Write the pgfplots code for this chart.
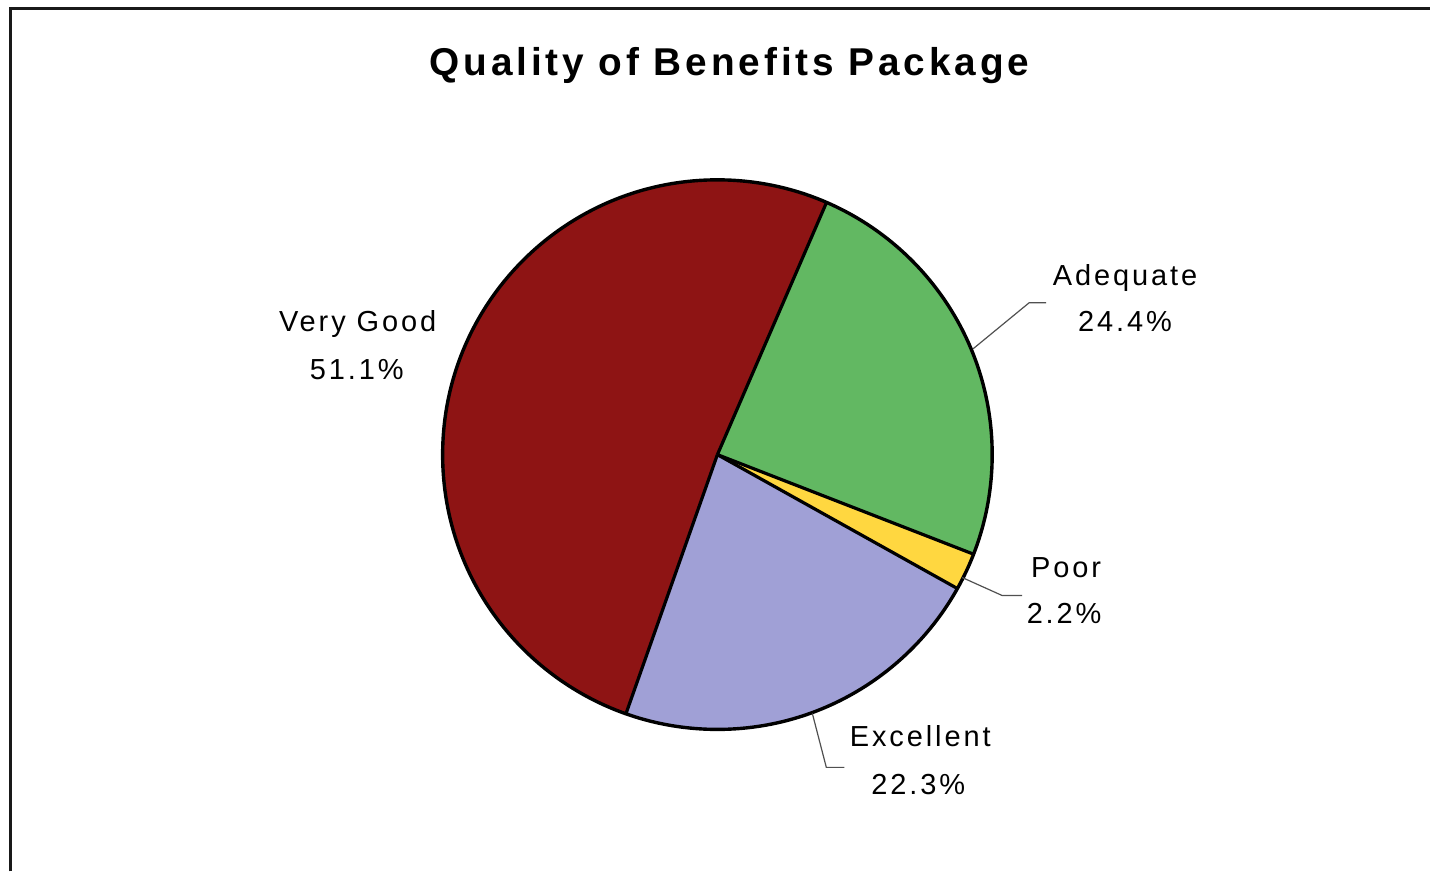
\documentclass[border=0pt]{standalone}
\usepackage{pgfplots}
\usepackage{pgfplotstable}
\pgfplotsset{compat=1.18}
\usepackage{fontspec}
\setmainfont{Liberation Sans}
\newfontfamily\lblfont[LetterSpace=10]{Liberation Sans}
\newfontfamily\ttlfont[LetterSpace=10]{Liberation Sans}
\definecolor{cRed}{HTML}{8E1414}
\definecolor{cGreen}{HTML}{62B862}
\definecolor{cYellow}{HTML}{FFD740}
\definecolor{cLav}{HTML}{A0A0D6}
\definecolor{cLead}{HTML}{505050}
\pgfplotstableread{
label value
Adequate 24.4
Poor 2.2
Excellent 22.3
VeryGood 51.1
}\piedata
\begin{document}
\begin{tikzpicture}
\pgfplotstablegetelem{0}{value}\of\piedata \pgfmathsetmacro\vA{\pgfplotsretval}
\pgfplotstablegetelem{1}{value}\of\piedata \pgfmathsetmacro\vB{\pgfplotsretval}
\pgfplotstablegetelem{2}{value}\of\piedata \pgfmathsetmacro\vC{\pgfplotsretval}
\pgfplotstablegetelem{3}{value}\of\piedata \pgfmathsetmacro\vD{\pgfplotsretval}
\pgfmathsetmacro\sA{66.6}
\pgfmathsetmacro\eA{\sA-3.6*\vA}
\pgfmathsetmacro\eB{\eA-3.6*\vB}
\pgfmathsetmacro\eC{\eB-3.6*\vC}
\pgfmathsetmacro\eD{\eC-3.6*\vD}
\def\R{137.5pt}
\begin{axis}[
  width=715.5pt, height=436pt, scale only axis,
  xmin=0, xmax=1431, ymin=0, ymax=872, y dir=reverse,
  hide axis, clip=false]
\path (axis cs:0,0) (axis cs:1431,872);
% frame
\draw[line width=1.2pt, black!90] (axis cs:10.5,872) -- (axis cs:10.5,8.5) -- (axis cs:1431,8.5);
% wedges
\fill[cGreen] (axis cs:718,455) -- ++(\sA:\R) arc[start angle=\sA, end angle=\eA, radius=\R] -- cycle;
\fill[cYellow] (axis cs:718,455) -- ++(\eA:\R) arc[start angle=\eA, end angle=\eB, radius=\R] -- cycle;
\fill[cLav] (axis cs:718,455) -- ++(\eB:\R) arc[start angle=\eB, end angle=\eC, radius=\R] -- cycle;
\fill[cRed] (axis cs:718,455) -- ++(\eC:\R) arc[start angle=\eC, end angle=\eD, radius=\R] -- cycle;
\draw[line width=1.6pt, line join=round] (axis cs:718,455) -- ++(\sA:\R);
\draw[line width=1.6pt, line join=round] (axis cs:718,455) -- ++(\eA:\R);
\draw[line width=1.6pt, line join=round] (axis cs:718,455) -- ++(\eB:\R);
\draw[line width=1.6pt, line join=round] (axis cs:718,455) -- ++(\eC:\R);
\draw[line width=1.7pt] (axis cs:718,455) circle[radius=\R];
% leader lines
\draw[cLead, line width=0.6pt] (axis cs:974,349) -- (axis cs:1030,303) -- (axis cs:1047,303);
\draw[cLead, line width=0.6pt] (axis cs:963,578) -- (axis cs:1003,596) -- (axis cs:1023,596);
\draw[cLead, line width=0.6pt] (axis cs:813,714) -- (axis cs:827,768) -- (axis cs:845,768);
% labels
\node[anchor=base, font=\ttlfont\bfseries\fontsize{19.4pt}{22pt}\selectfont] at (axis cs:730,76) {Quality of Benefits Package};
\tikzset{lbl/.style={anchor=base, inner sep=0pt, font=\lblfont\fontsize{14.5pt}{17pt}\selectfont}}
\node[lbl] at (axis cs:1126,286) {Adequate};
\node[lbl] at (axis cs:1126,332) {24.4\%};
\node[lbl] at (axis cs:1067,578) {Poor};
\node[lbl] at (axis cs:1065,624) {2.2\%};
\node[lbl] at (axis cs:921,747) {Excellent};
\node[lbl] at (axis cs:919,795) {22.3\%};
\node[lbl] at (axis cs:358,332) {Very Good};
\node[lbl] at (axis cs:357,380) {51.1\%};
\end{axis}
\end{tikzpicture}
\end{document}
